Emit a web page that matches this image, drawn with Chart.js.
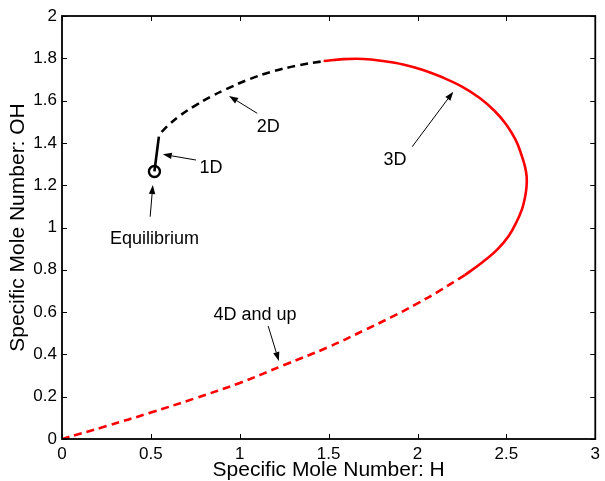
<!DOCTYPE html>
<html>
<head>
<meta charset="utf-8">
<script src="https://cdn.jsdelivr.net/npm/chart.js@4/dist/chart.umd.min.js"></script>
<style>
html,body{margin:0;padding:0;background:#fff}
canvas{display:block}
</style>
</head>
<body>
<canvas id="chart" width="605" height="481"></canvas>
<script>
// axis ticks (MATLAB style labels)
const xTicks = [0, 0.5, 1, 1.5, 2, 2.5, 3];
const xTickLabels = ['0', '0.5', '1', '1.5', '2', '2.5', '3'];
const yTicks = [0, 0.2, 0.4, 0.6, 0.8, 1, 1.2, 1.4, 1.6, 1.8, 2];
const yTickLabels = ['0', '0.2', '0.4', '0.6', '0.8', '1', '1.2', '1.4', '1.6', '1.8', '2'];

// trajectory pieces, x = H, y = OH
const eqX = [0.52];
const eqY = [1.265];
const d1X = [0.52, 0.545];
const d1Y = [1.265, 1.43];
const d2X = [0.56, 0.6, 0.66, 0.754, 0.84, 0.921, 1.05, 1.183, 1.33, 1.475];
const d2Y = [1.452, 1.485, 1.527, 1.579, 1.62, 1.653, 1.70, 1.737, 1.767, 1.787];
const d3X = [1.472, 1.584, 1.696, 1.807, 1.919, 2.031, 2.143, 2.255, 2.35, 2.434, 2.501, 2.552, 2.585, 2.604, 2.614,
             2.613, 2.604, 2.588, 2.557, 2.513, 2.451, 2.367, 2.266];
const d3Y = [1.787, 1.796, 1.797, 1.787, 1.771, 1.745, 1.709, 1.664, 1.612, 1.551, 1.485, 1.414, 1.343, 1.29, 1.24,
             1.19, 1.14, 1.087, 1.026, 0.96, 0.898, 0.837, 0.775];
const d4X = [2.266, 2.13, 2.0, 1.85, 1.7, 1.5, 1.25, 1.0, 0.75, 0.5, 0.25, 0];
const d4Y = [0.775, 0.704, 0.641, 0.575, 0.514, 0.435, 0.35, 0.265, 0.193, 0.125, 0.061, 0];

// annotations: label position and arrow (tail -> head), all in data units
const noteText = ['Equilibrium', '1D', '2D', '3D', '4D and up'];
const noteX = [0.52, 0.838, 1.16, 1.873, 1.086];
const noteY = [0.946, 1.28, 1.474, 1.319, 0.586];
const tailX = [0.496, 0.754, 1.098, 1.97, 1.16];
const tailY = [1.051, 1.319, 1.54, 1.382, 0.534];
const headX = [0.511, 0.567, 0.94, 2.201, 1.22];
const headY = [1.201, 1.346, 1.622, 1.642, 0.369];

const FONT = "'Liberation Sans', Arial, Helvetica, sans-serif";
const pts = (xs, ys) => xs.map((x, i) => ({x: x, y: ys[i]}));

function line(ctx, x1, y1, x2, y2){
  ctx.beginPath(); ctx.moveTo(x1, y1); ctx.lineTo(x2, y2); ctx.stroke();
}

// box + inward ticks on all four sides
const framePlugin = {
  id: 'frame',
  afterDraw(chart){
    const {ctx, chartArea: a, scales: {x, y}} = chart;
    ctx.save();
    ctx.strokeStyle = '#000';
    ctx.lineWidth = 1;
    xTicks.forEach(v => {
      const px = Math.round(x.getPixelForValue(v)) + 0.5;
      line(ctx, px, a.bottom, px, a.bottom - 5);
      line(ctx, px, a.top, px, a.top + 5);
    });
    yTicks.forEach(v => {
      const py = Math.round(y.getPixelForValue(v)) + 0.5;
      line(ctx, a.left, py, a.left + 5, py);
      line(ctx, a.right, py, a.right - 5, py);
    });
    ctx.lineWidth = 1.8;
    ctx.strokeRect(a.left, a.top, a.right - a.left, a.bottom - a.top);
    ctx.restore();
  }
};

// text labels with arrows
const notePlugin = {
  id: 'notes',
  afterDatasetsDraw(chart){
    const {ctx, scales: {x, y}} = chart;
    ctx.save();
    ctx.fillStyle = '#000';
    ctx.strokeStyle = '#000';
    ctx.lineWidth = 1;
    ctx.font = '18px ' + FONT;
    ctx.textAlign = 'center';
    ctx.textBaseline = 'middle';
    noteText.forEach((t, i) => {
      ctx.fillText(t, x.getPixelForValue(noteX[i]), y.getPixelForValue(noteY[i]));
      const x1 = x.getPixelForValue(tailX[i]), y1 = y.getPixelForValue(tailY[i]);
      const x2 = x.getPixelForValue(headX[i]), y2 = y.getPixelForValue(headY[i]);
      const ang = Math.atan2(y2 - y1, x2 - x1);
      const len = 9, half = 3.2;
      const bx = x2 - len * Math.cos(ang), by = y2 - len * Math.sin(ang);
      line(ctx, x1, y1, bx, by);
      ctx.beginPath();
      ctx.moveTo(x2, y2);
      ctx.lineTo(bx + half * Math.sin(ang), by - half * Math.cos(ang));
      ctx.lineTo(bx - half * Math.sin(ang), by + half * Math.cos(ang));
      ctx.closePath();
      ctx.fill();
    });
    ctx.restore();
  }
};

const lineSet = (data, color, dash) => ({
  data: data,
  showLine: true,
  borderColor: color,
  borderWidth: 2.6,
  borderDash: dash,
  pointRadius: 0,
  tension: 0.4,
  fill: false
});

new Chart(document.getElementById('chart'), {
  type: 'scatter',
  data: {
    datasets: [
      lineSet(pts(d1X, d1Y), '#000', []),
      lineSet(pts(d2X, d2Y), '#000', [8, 5]),
      lineSet(pts(d3X, d3Y), '#ff0000', []),
      lineSet(pts(d4X, d4Y), '#ff0000', [8, 5]),
      {
        data: pts(eqX, eqY),
        pointStyle: 'circle',
        pointRadius: 5.5,
        pointBorderWidth: 2.4,
        pointBorderColor: '#000',
        pointBackgroundColor: 'rgba(0,0,0,0)',
        showLine: false
      }
    ]
  },
  options: {
    responsive: false,
    animation: false,
    layout: {padding: {left: 0, top: 16, right: 7, bottom: 0}},
    plugins: {legend: {display: false}, tooltip: {enabled: false}},
    scales: {
      x: {
        type: 'linear', min: 0, max: 3,
        afterBuildTicks: s => { s.ticks = xTicks.map(v => ({value: v})); },
        afterFit: s => { s.height = 42; },
        grid: {display: false, drawTicks: false},
        border: {display: false},
        ticks: {
          color: '#000', font: {family: FONT, size: 17}, padding: 5,
          maxRotation: 0, autoSkip: false,
          callback: (v, i) => xTickLabels[i]
        },
        title: {
          display: true, text: 'Specific Mole Number: H', color: '#000',
          font: {family: FONT, size: 21}, padding: {top: 0, bottom: -2}
        }
      },
      y: {
        type: 'linear', min: 0, max: 2,
        afterBuildTicks: s => { s.ticks = yTicks.map(v => ({value: v})); },
        afterFit: s => { s.width = 62; },
        grid: {display: false, drawTicks: false},
        border: {display: false},
        ticks: {
          color: '#000', font: {family: FONT, size: 17}, padding: 5,
          autoSkip: false,
          callback: (v, i) => yTickLabels[i]
        },
        title: {
          display: true, text: 'Specific Mole Number: OH', color: '#000',
          font: {family: FONT, size: 21}, padding: {top: 6, bottom: 0}
        }
      }
    }
  },
  plugins: [framePlugin, notePlugin]
});
</script>
</body>
</html>
